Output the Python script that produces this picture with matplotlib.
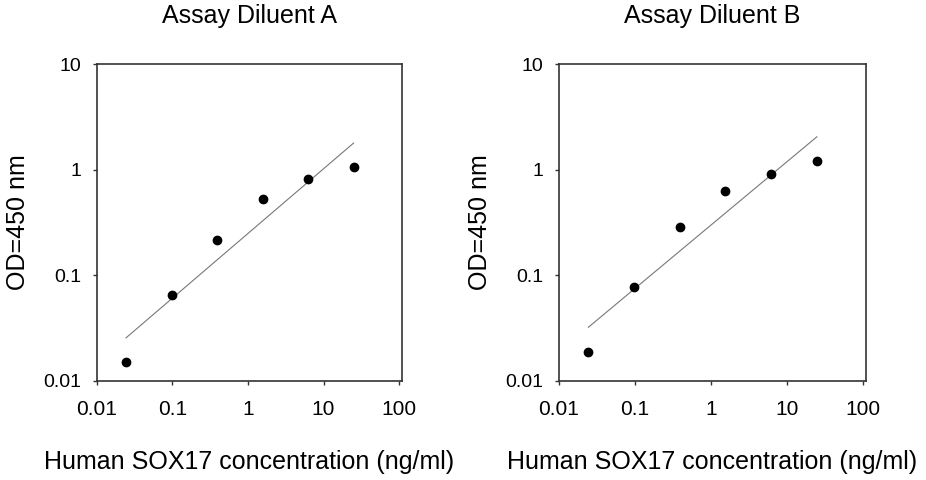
import numpy as np
import matplotlib
matplotlib.use("Agg")
import matplotlib.pyplot as plt
from matplotlib.ticker import FixedLocator, FixedFormatter, NullLocator

plt.rcParams['font.family'] = ['Liberation Sans', 'DejaVu Sans']

# standard curve concentrations (ng/ml), 4-fold dilutions
conc = [0.0244, 0.0977, 0.3906, 1.5625, 6.25, 25.0]

# OD readings per diluent
od_a = [0.0149, 0.0653, 0.214, 0.523, 0.81, 1.066]
od_b = [0.0185, 0.077, 0.286, 0.63, 0.908, 1.216]

titles = ["Assay Diluent A", "Assay Diluent B"]
x_ticks = [0.01, 0.1, 1, 10, 100]
x_labels = ["0.01", "0.1", "1", "10", "100"]
y_ticks = [0.01, 0.1, 1, 10]
y_labels = ["0.01", "0.1", "1", "10"]

fig = plt.figure(figsize=(9.26, 4.8), dpi=100)
W, H = 926, 480
# axes boxes in pixels: left, right, top, bottom
boxes = [(96.7, 402.3, 64.3, 380.5), (559.0, 865.7, 64.3, 380.5)]

for (l, r, t, b), title, od in zip(boxes, titles, [od_a, od_b]):
    ax = fig.add_axes([l / W, 1 - b / H, (r - l) / W, (b - t) / H])
    ax.set_xscale("log")
    ax.set_yscale("log")
    ax.set_xlim(0.01, 110)
    ax.set_ylim(0.01, 10)

    # linear fit in log-log space
    lx = np.log10(conc)
    ly = np.log10(od)
    k, c = np.polyfit(lx, ly, 1)
    fx = np.array([lx[0], lx[-1]])
    ax.plot(10 ** fx, 10 ** (k * fx + c), color="#777777", lw=0.8)
    ax.plot(conc, od, "o", color="black", ms=6, mec="black")

    ax.xaxis.set_major_locator(FixedLocator(x_ticks))
    ax.xaxis.set_major_formatter(FixedFormatter(x_labels))
    ax.yaxis.set_major_locator(FixedLocator(y_ticks))
    ax.yaxis.set_major_formatter(FixedFormatter(y_labels))
    ax.xaxis.set_minor_locator(NullLocator())
    ax.yaxis.set_minor_locator(NullLocator())
    ax.tick_params(axis="x", direction="out", length=3, width=1, color="#333333",
                   labelsize=15, pad=11)
    ax.tick_params(axis="y", direction="out", length=3, width=1, color="#333333",
                   labelsize=14, pad=8)
    for s in ax.spines.values():
        s.set_color("#333333")
        s.set_linewidth(1.2)

    ax.set_title(title, fontsize=18, pad=30)
    ax.set_xlabel("Human SOX17 concentration (ng/ml)", fontsize=18, labelpad=22)
    ax.set_ylabel("OD=450 nm", fontsize=18, labelpad=10)

fig.savefig("out.png", dpi=100)
